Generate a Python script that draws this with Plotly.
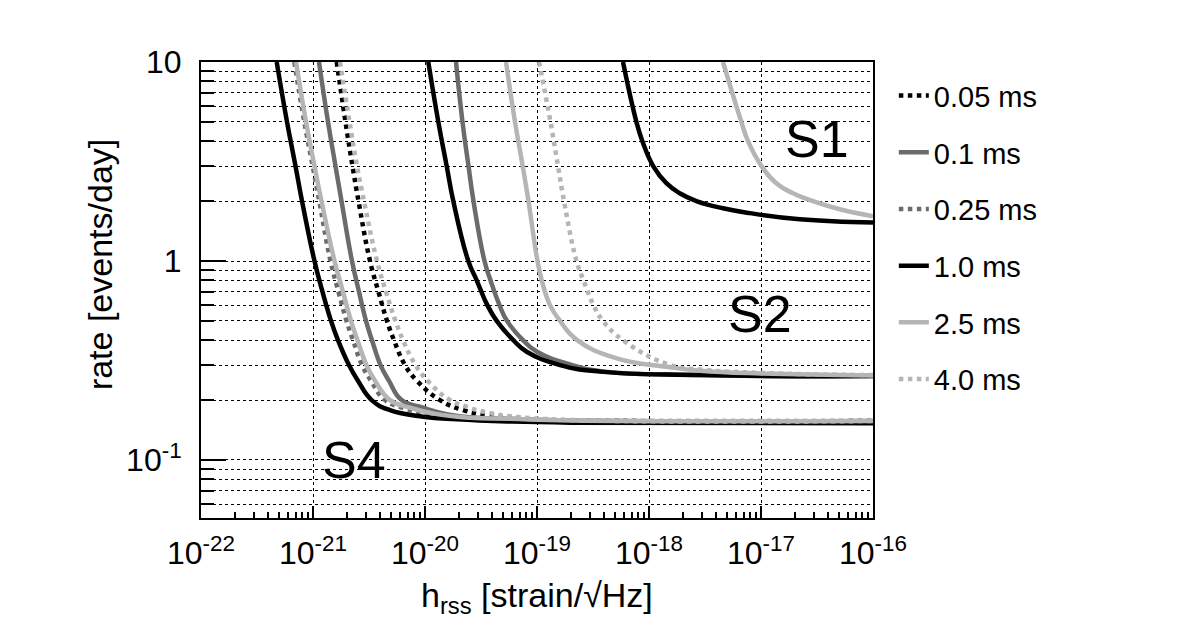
import plotly.graph_objects as go

# Legend entries (burst durations) and their line styles
durations = ['0.05 ms', '0.1 ms', '0.25 ms', '1.0 ms', '2.5 ms', '4.0 ms']
line_colors = ['#000000', '#6b6b6b', '#6b6b6b', '#000000', '#b5b5b5', '#b5b5b5']
line_dashes = ['dot', 'solid', 'dot', 'solid', 'solid', 'dot']

# S4 curves: hrss [strain/sqrt(Hz)] vs rate [events/day]
s4_005_h = [1.628e-21, 1.951e-21, 2.253e-21, 2.549e-21, 3.228e-21, 3.843e-21, 4.577e-21, 5.285e-21,
            6.63e-21, 8.48e-21, 1.36e-20, 2.198e-20, 3.556e-20, 5.74e-20, 2e-19, 1e-16]
s4_005_rate = [10, 5, 3, 2, 1, 0.7, 0.5, 0.4, 0.3, 0.25, 0.2, 0.178, 0.168, 0.162, 0.158, 0.157]

s4_01_h = [1.131e-21, 1.361e-21, 1.588e-21, 1.797e-21, 2.229e-21, 2.574e-21, 2.973e-21, 3.363e-21,
           4.006e-21, 4.77e-21, 6.19e-21, 9.66e-21, 1.56e-20, 2.90e-20, 5.74e-20, 2e-19, 1e-16]
s4_01_rate = [10, 5, 3, 2, 1, 0.7, 0.5, 0.4, 0.3, 0.25, 0.2, 0.183, 0.170, 0.163, 0.161, 0.158, 0.157]

s4_025_h = [6.81e-22, 8.36e-22, 9.94e-22, 1.138e-21, 1.433e-21, 1.689e-21, 1.991e-21, 2.276e-21,
            2.739e-21, 3.294e-21, 4.393e-21, 6.40e-21, 1.108e-20, 2.198e-20, 5.74e-20, 2e-19, 1e-16]
s4_025_rate = [10, 5, 3, 2, 1, 0.7, 0.5, 0.4, 0.3, 0.25, 0.2, 0.183, 0.170, 0.163, 0.160, 0.158, 0.157]

s4_10_h = [4.74e-22, 5.86e-22, 6.98e-22, 7.98e-22, 1.031e-21, 1.216e-21, 1.449e-21, 1.671e-21,
           2.094e-21, 2.52e-21, 3.34e-21, 4.87e-21, 9.66e-21, 1.92e-20, 5.74e-20, 2e-19, 1e-16]
s4_10_rate = [10, 5, 3, 2, 1, 0.7, 0.5, 0.4, 0.3, 0.25, 0.2, 0.178, 0.165, 0.160, 0.156, 0.154, 0.153]

s4_25_h = [7.05e-22, 8.66e-22, 1.031e-21, 1.191e-21, 1.556e-21, 1.853e-21, 2.184e-21, 2.496e-21,
           3.004e-21, 3.578e-21, 4.87e-21, 7.35e-21, 1.272e-20, 2.522e-20, 5.74e-20, 2e-19, 1e-16]
s4_25_rate = [10, 5, 3, 2, 1, 0.7, 0.5, 0.4, 0.3, 0.25, 0.2, 0.183, 0.170, 0.163, 0.161, 0.158, 0.157]

s4_40_h = [1.742e-21, 2.119e-21, 2.471e-21, 2.853e-21, 3.726e-21, 4.484e-21, 5.45e-21, 6.36e-21,
           8.23e-21, 1.108e-20, 1.672e-20, 2.357e-20, 3.81e-20, 5.74e-20, 2e-19, 1e-16]
s4_40_rate = [10, 5, 3, 2, 1, 0.7, 0.5, 0.4, 0.3, 0.243, 0.2, 0.185, 0.172, 0.166, 0.159, 0.157]

# S2 curves
s2_01_h = [1.891e-20, 2.162e-20, 2.446e-20, 2.710e-20, 3.399e-20, 3.845e-20, 4.627e-20, 5.397e-20,
           7.50e-20, 1.0e-19, 2.054e-19, 4.047e-19, 2.854e-18, 1e-16]
s2_01_rate = [10, 5, 3, 2, 1, 0.8, 0.6, 0.5, 0.4, 0.35, 0.3, 0.278, 0.267, 0.264]

s2_10_h = [1.070e-20, 1.315e-20, 1.562e-20, 1.789e-20, 2.436e-20, 2.894e-20, 3.601e-20, 4.368e-20,
           6.143e-20, 8.09e-20, 1.605e-19, 3.65e-19, 2.854e-18, 1e-16]
s2_10_rate = [10, 5, 3, 2, 1, 0.8, 0.6, 0.5, 0.4, 0.35, 0.3, 0.278, 0.267, 0.264]

s2_25_h = [5.287e-20, 6.362e-20, 7.453e-20, 8.39e-20, 1.01e-19, 1.102e-19, 1.306e-19, 1.605e-19,
           2.28e-19, 5.15e-19, 1.44e-18, 2.854e-18, 1e-17, 1e-16]
s2_25_rate = [10, 5, 3, 2, 1, 0.8, 0.6, 0.5, 0.4, 0.324, 0.294, 0.281, 0.272, 0.266]

s2_40_h = [1.043e-19, 1.319e-19, 1.54e-19, 1.742e-19, 2.253e-19, 2.60e-19, 3.195e-19, 3.885e-19,
           5.86e-19, 1.54e-18, 2.854e-18, 1e-17, 1e-16]
s2_40_rate = [10, 5, 3, 2, 1, 0.8, 0.6, 0.5, 0.4, 0.3, 0.285, 0.274, 0.267]

# S1 curves
s1_10_h = [5.86e-19, 7.72e-19, 8.73e-19, 1.09e-18, 1.43e-18, 1.88e-18, 2.65e-18, 4.58e-18,
           7.93e-18, 2.22e-17, 1e-16]
s1_10_rate = [10, 5, 4, 3, 2.46, 2.19, 2.0, 1.84, 1.74, 1.62, 1.56]

s1_25_h = [4.58e-18, 6.68e-18, 7.66e-18, 1.01e-17, 1.37e-17, 1.93e-17, 2.91e-17, 5.05e-17, 1e-16]
s1_25_rate = [10, 5, 4, 3, 2.46, 2.19, 2.0, 1.82, 1.68]

x_tickvals = [1e-22, 1e-21, 1e-20, 1e-19, 1e-18, 1e-17, 1e-16]
x_ticktext = ['10<sup>-22</sup>', '10<sup>-21</sup>', '10<sup>-20</sup>', '10<sup>-19</sup>',
              '10<sup>-18</sup>', '10<sup>-17</sup>', '10<sup>-16</sup>']
y_tickvals = [0.1, 1, 10]
y_ticktext = ['10<sup>-1</sup>', '1', '10']

# (run, duration index, x, y) -- S4 first so legend follows duration order
curves = [
    ('S4', 0, s4_005_h, s4_005_rate),
    ('S4', 1, s4_01_h, s4_01_rate),
    ('S4', 2, s4_025_h, s4_025_rate),
    ('S4', 3, s4_10_h, s4_10_rate),
    ('S4', 4, s4_25_h, s4_25_rate),
    ('S4', 5, s4_40_h, s4_40_rate),
    ('S2', 1, s2_01_h, s2_01_rate),
    ('S2', 3, s2_10_h, s2_10_rate),
    ('S2', 4, s2_25_h, s2_25_rate),
    ('S2', 5, s2_40_h, s2_40_rate),
    ('S1', 3, s1_10_h, s1_10_rate),
    ('S1', 4, s1_25_h, s1_25_rate),
]

fig = go.Figure()
for run, i, xs, ys in curves:
    fig.add_trace(go.Scatter(
        x=xs, y=ys, mode='lines', name=durations[i],
        legendgroup=durations[i], showlegend=(run == 'S4'),
        line=dict(color=line_colors[i], dash=line_dashes[i], width=4.5,
                  shape='spline', smoothing=1.3),
    ))

# white boxes behind the run labels (cover the grid, sit under the curves)
boxes = [(0.8646, 0.7632, 0.9702, 0.9167), (0.7634, 0.3794, 0.9092, 0.5329),
         (0.1711, 0.0395, 0.2961, 0.1886)]
for x0, y0, x1, y1 in boxes:
    fig.add_shape(type='rect', xref='paper', yref='paper', x0=x0, y0=y0, x1=x1, y1=y1,
                  fillcolor='white', line=dict(width=0), layer='between')

labels = [('S1', 0.9174, 0.8311), ('S2', 0.8318, 0.4474), ('S4', 0.2284, 0.1272)]
for txt, lx, ly in labels:
    fig.add_annotation(text=txt, x=lx, y=ly, xref='paper', yref='paper', showarrow=False,
                       xanchor='center', yanchor='middle',
                       font=dict(size=52, color='black'))

fig.add_annotation(text='rate [events/day]', x=-0.150, y=0.555, xref='paper', yref='paper',
                   xanchor='center', yanchor='middle',
                   textangle=-90, showarrow=False, font=dict(size=34, color='black'))
fig.add_annotation(text='h<sub>rss</sub> [strain/√Hz]', x=0.5, y=-0.175, xref='paper',
                   yref='paper', xanchor='center', yanchor='middle',
                   showarrow=False, font=dict(size=34, color='black'))

# the page body has an 8px margin, so the margins are reduced by 8px
fig.update_layout(
    width=1181, height=625,
    margin=dict(l=193, r=316, t=54, b=115),
    plot_bgcolor='white', paper_bgcolor='white',
    font=dict(family='Liberation Sans, Arial, sans-serif', color='black', size=30),
    legend=dict(x=1.031, xanchor='left', y=0.982, yanchor='top',
                font=dict(size=29, color='black'),
                tracegroupgap=16, bgcolor='rgba(0,0,0,0)'),
)

fig.update_xaxes(
    type='log', range=[-22, -16], tickvals=x_tickvals, ticktext=x_ticktext,
    tickfont=dict(size=32, color='black'),
    ticks='inside', ticklen=12, tickwidth=2, tickcolor='black', ticklabelstandoff=6,
    showline=True, linewidth=2, linecolor='black', mirror=True, zeroline=False,
    showgrid=True, gridcolor='black', griddash='dot', gridwidth=1,
    minor=dict(dtick='D1', ticks='inside', ticklen=6, tickwidth=1.5, tickcolor='black',
               showgrid=False),
)
fig.update_yaxes(
    type='log', range=[-1.2915, 1], tickvals=y_tickvals, ticktext=y_ticktext,
    tickfont=dict(size=32, color='black'),
    ticks='inside', ticklen=25, tickwidth=2, tickcolor='black', ticklabelstandoff=11,
    showline=True, linewidth=2, linecolor='black', mirror=True, zeroline=False,
    showgrid=True, gridcolor='black', griddash='dot', gridwidth=1,
    minor=dict(dtick='D1', ticks='inside', ticklen=13, tickwidth=1.5, tickcolor='black',
               showgrid=True, gridcolor='black', griddash='dot', gridwidth=1),
)

fig.write_html("out.html")
